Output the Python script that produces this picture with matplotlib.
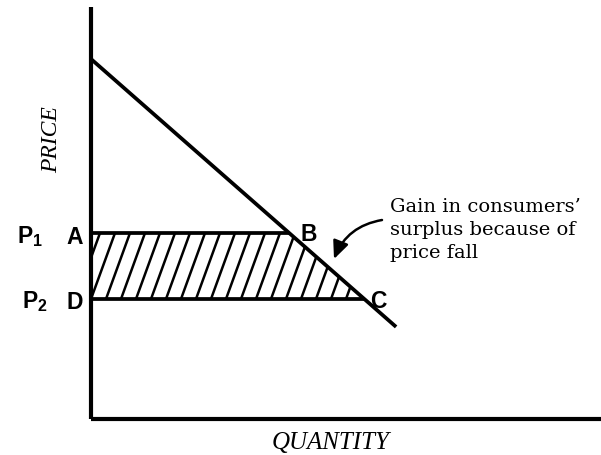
import matplotlib
matplotlib.use("Agg")
import matplotlib.pyplot as plt
import numpy as np
from matplotlib.patches import Polygon, FancyArrowPatch

# ---------------- data ----------------
demand_q = [0.0, 10.17]          # quantity at the two ends of the demand curve
demand_p = [12.0, 3.07]          # price at the two ends of the demand curve
price_levels = [6.2, 4.0]        # P1 (old price), P2 (new price)
price_names = [r"$\mathbf{P_1}$", r"$\mathbf{P_2}$"]
left_points = ["A", "D"]
right_points = ["B", "C"]
note_lines = ["Gain in consumers\u2019", "surplus because of", "price fall"]
x_title = "QUANTITY"
y_title = "PRICE"

plt.rcParams["mathtext.fontset"] = "custom"
plt.rcParams["mathtext.rm"] = "Liberation Sans"
plt.rcParams["mathtext.bf"] = "Liberation Sans:bold"

W, H = 601, 456
fig = plt.figure(figsize=(W / 100, H / 100), dpi=100)
ox, oy = 91, 420                      # axis origin in pixels
ax = fig.add_axes([ox / W, (H - oy) / H, (W - ox) / W, (oy - 8) / H])
ax.set_xlim(0, (W - ox) / 30)
ax.set_ylim(0, (oy - 8) / 30)
for s in ("top", "right"):
    ax.spines[s].set_visible(False)
for s in ("left", "bottom"):
    ax.spines[s].set_linewidth(3.0)
    ax.spines[s].set_capstyle("butt")
ax.set_xticks([])
ax.set_yticks([])

# demand curve
ax.plot(demand_q, demand_p, color="black", lw=2.7, solid_capstyle="butt")

p1, p2 = price_levels
qB = float(np.interp(p1, demand_p[::-1], demand_q[::-1]))
qC = float(np.interp(p2, demand_p[::-1], demand_q[::-1]))

# price lines
ax.plot([0, qB], [p1, p1], color="black", lw=2.7, solid_capstyle="butt")
ax.plot([0, qC], [p2, p2], color="black", lw=2.7, solid_capstyle="butt")

# hatched gain area
poly = Polygon([(0, p1), (qB, p1), (qC, p2), (0, p2)], closed=True,
               facecolor="none", edgecolor="none")
ax.add_patch(poly)
spacing = 15 / 30
shift = 24 / 30
for x0 in np.arange(-2 * spacing, qC + spacing, spacing):
    ln, = ax.plot([x0, x0 + shift], [p2, p1], color="black", lw=1.8,
                  solid_capstyle="butt")
    ln.set_clip_path(poly)

# point labels
lab_kw = dict(fontsize=16.5, fontweight="bold", family="Liberation Sans",
              textcoords="offset pixels", va="baseline", ha="center",
              annotation_clip=False)
ax.annotate(left_points[0], xy=(0, p1), xytext=(-16.5, -10), **lab_kw)
ax.annotate(left_points[1], xy=(0, p2), xytext=(-16, -9), **lab_kw)
ax.annotate(right_points[0], xy=(qB, p1), xytext=(20, -7), **lab_kw)
ax.annotate(right_points[1], xy=(qC, p2), xytext=(14, -8), **lab_kw)
pk = dict(lab_kw)
pk["ha"] = "left"
ax.annotate(price_names[0], xy=(0, p1), xytext=(-74, -9), **pk)
ax.annotate(price_names[1], xy=(0, p2), xytext=(-69, -8), **pk)

# annotation text
note_x = (390 - ox) / 30
base_y = [(oy - 212) / 30, (oy - 235) / 30, (oy - 258) / 30]
for line, by in zip(note_lines, base_y):
    ax.text(note_x, by, line, fontsize=14, family="DejaVu Serif",
            ha="left", va="baseline")

arrow = FancyArrowPatch(posA=((382 - ox) / 30, (oy - 221) / 30),
                        posB=((334 - ox) / 30, (oy - 260) / 30),
                        connectionstyle="arc3,rad=0.28",
                        arrowstyle="-|>,head_length=0.9,head_width=0.4",
                        mutation_scale=12, color="black", lw=1.8,
                        shrinkA=0, shrinkB=0)
ax.add_patch(arrow)

# axis titles
ax.text((331 - ox) / 30, (oy - 443) / 30, x_title, fontsize=18,
        family="Liberation Serif", style="italic", ha="center", va="center",
        clip_on=False)
ax.text((52 - ox) / 30, (oy - 140) / 30, y_title, fontsize=17,
        family="Liberation Serif", style="italic", ha="center", va="center",
        rotation=90, clip_on=False)

fig.savefig("out.png", dpi=100)
